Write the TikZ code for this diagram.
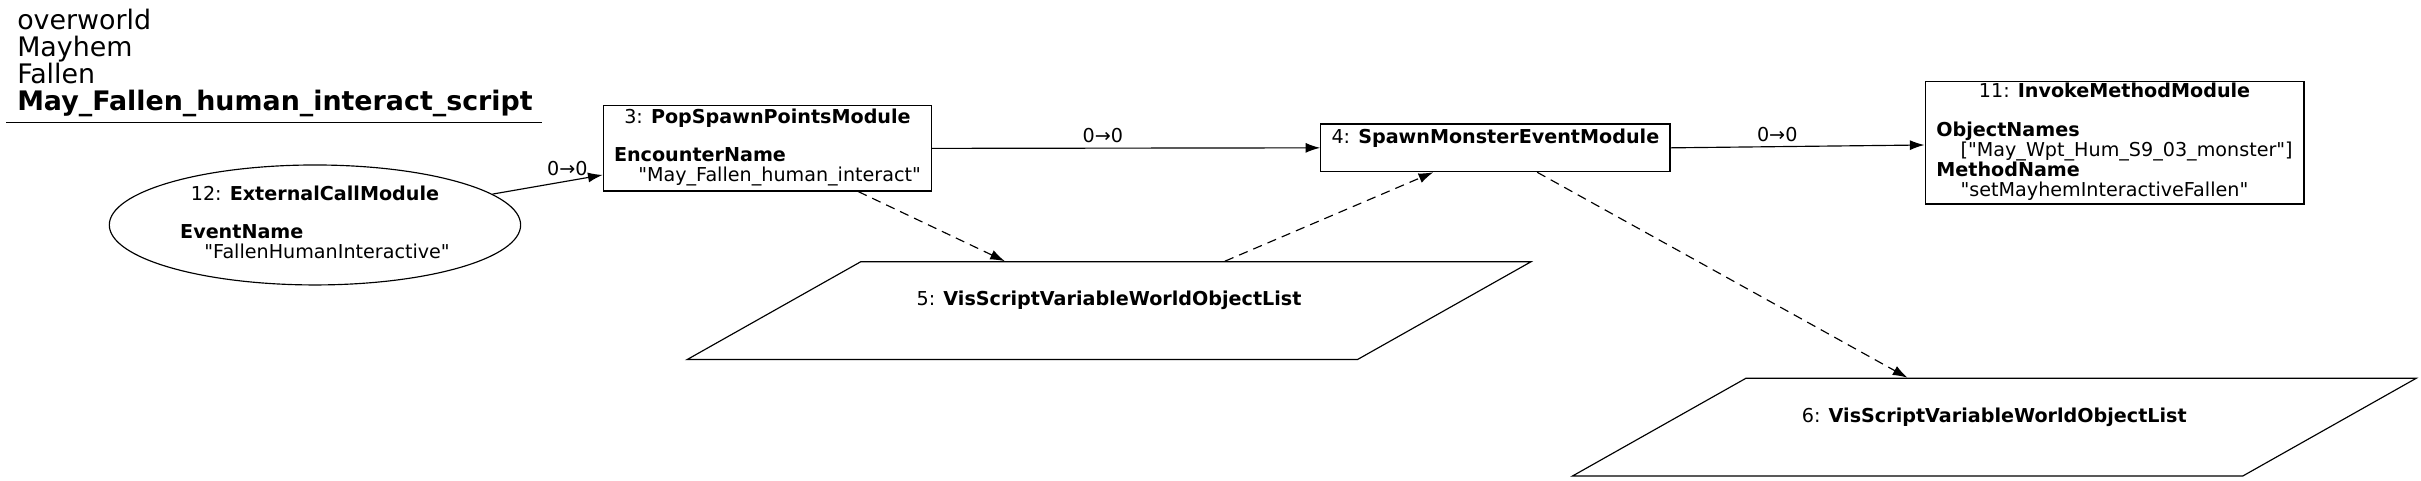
\documentclass[tikz,border=0pt]{standalone}
\usepackage{fontspec}
\newfontfamily\dejavu{DejaVu Sans}
\usetikzlibrary{shapes.geometric,arrows.meta}

\begin{document}
\begin{tikzpicture}[x=1pt, y=-1pt, line width=0.75pt, >={Latex[length=9.5pt,width=6.5pt]},
    every node/.style={font=\dejavu\fontsize{12.4}{12}\selectfont},
    module/.style={draw, rectangle, inner sep=0pt},
    call/.style={draw, ellipse, inner sep=0pt},
    varlist/.style={draw, trapezium, trapezium left angle=29.4, trapezium right angle=150.6,
        trapezium stretches body=true, inner xsep=0pt, inner ysep=19.15pt, minimum width=546.5pt},
    flow/.style={->, dash pattern=on 6pt off 4pt},
    link/.style={above, inner sep=3pt}]

    \useasboundingbox (0,0) rectangle (1568,310.9);

    %titre
    \draw (10.8,5.8) node[anchor=north west, inner sep=0pt, align=left, font=\dejavu\fontsize{17.4}{17.3}\selectfont] (title) {overworld\\Mayhem\\Fallen\\\textbf{May\_Fallen\_human\_interact\_script}};
    \coordinate (ul1) at (3.9,79.2);
    \coordinate (ul2) at (351,79.2);
    \draw (ul1) -- (ul2);

    %modules
    \draw (204,145.7) node[call, minimum width=266.4pt, minimum height=77.7pt] (n12) {\begin{tabular}{@{}l@{}}\multicolumn{1}{@{}c@{}}{12: \textbf{ExternalCallModule}}\\ \\ \textbf{EventName}\\ \hspace*{15.7pt}"FallenHumanInteractive"\end{tabular}};
    \draw (497.05,96.1) node[module, minimum width=212.7pt, minimum height=55.2pt] (n3) {\begin{tabular}{@{}l@{}}\multicolumn{1}{@{}c@{}}{3: \textbf{PopSpawnPointsModule}}\\ \\ \textbf{EncounterName}\\ \hspace*{15.7pt}"May\_Fallen\_human\_interact"\end{tabular}};
    \draw (968.5,95.75) node[module, minimum width=226.2pt, minimum height=30.9pt] (n4) {\begin{tabular}{@{}c@{}}4: \textbf{SpawnMonsterEventModule}\\ \mbox{}\end{tabular}};
    \draw (1369.5,92.5) node[module, minimum width=245.4pt, minimum height=79.2pt] (n11) {\begin{tabular}{@{}l@{}}\multicolumn{1}{@{}c@{}}{11: \textbf{InvokeMethodModule}}\\ \\ \textbf{ObjectNames}\\ \hspace*{15.7pt}["May\_Wpt\_Hum\_S9\_03\_monster"]\\ \textbf{MethodName}\\ \hspace*{15.7pt}"setMayhemInteractiveFallen"\end{tabular}};

    %listes
    \draw (718.3,201.2) node[varlist] (p5) {\begin{tabular}{@{}c@{}}5: \textbf{VisScriptVariableWorldObjectList}\\ \mbox{}\end{tabular}};
    \draw (1291.65,276.65) node[varlist] (p6) {\begin{tabular}{@{}c@{}}6: \textbf{VisScriptVariableWorldObjectList}\\ \mbox{}\end{tabular}};

    %liens
    \draw[->] (n12) -- ([yshift=-17.2pt]n3.west) node[link, pos=0.68] (l1) {0→0};
    \draw[->] (n3.east) -- (n4.west) node[link, pos=0.44] (l2) {0→0};
    \draw[->] (n4.east) -- ([yshift=-1.4pt]n11.west) node[link, pos=0.42] (l3) {0→0};

    %variables
    \draw[flow] ([xshift=58.8pt]n3.south) -- ([xshift=93.5pt]p5.top left corner);
    \draw[flow] ([xshift=236pt]p5.top left corner) -- ([xshift=-40.2pt]n4.south);
    \draw[flow] ([xshift=27.1pt]n4.south) -- ([xshift=104.7pt]p6.top left corner);

\end{tikzpicture}
\end{document}
